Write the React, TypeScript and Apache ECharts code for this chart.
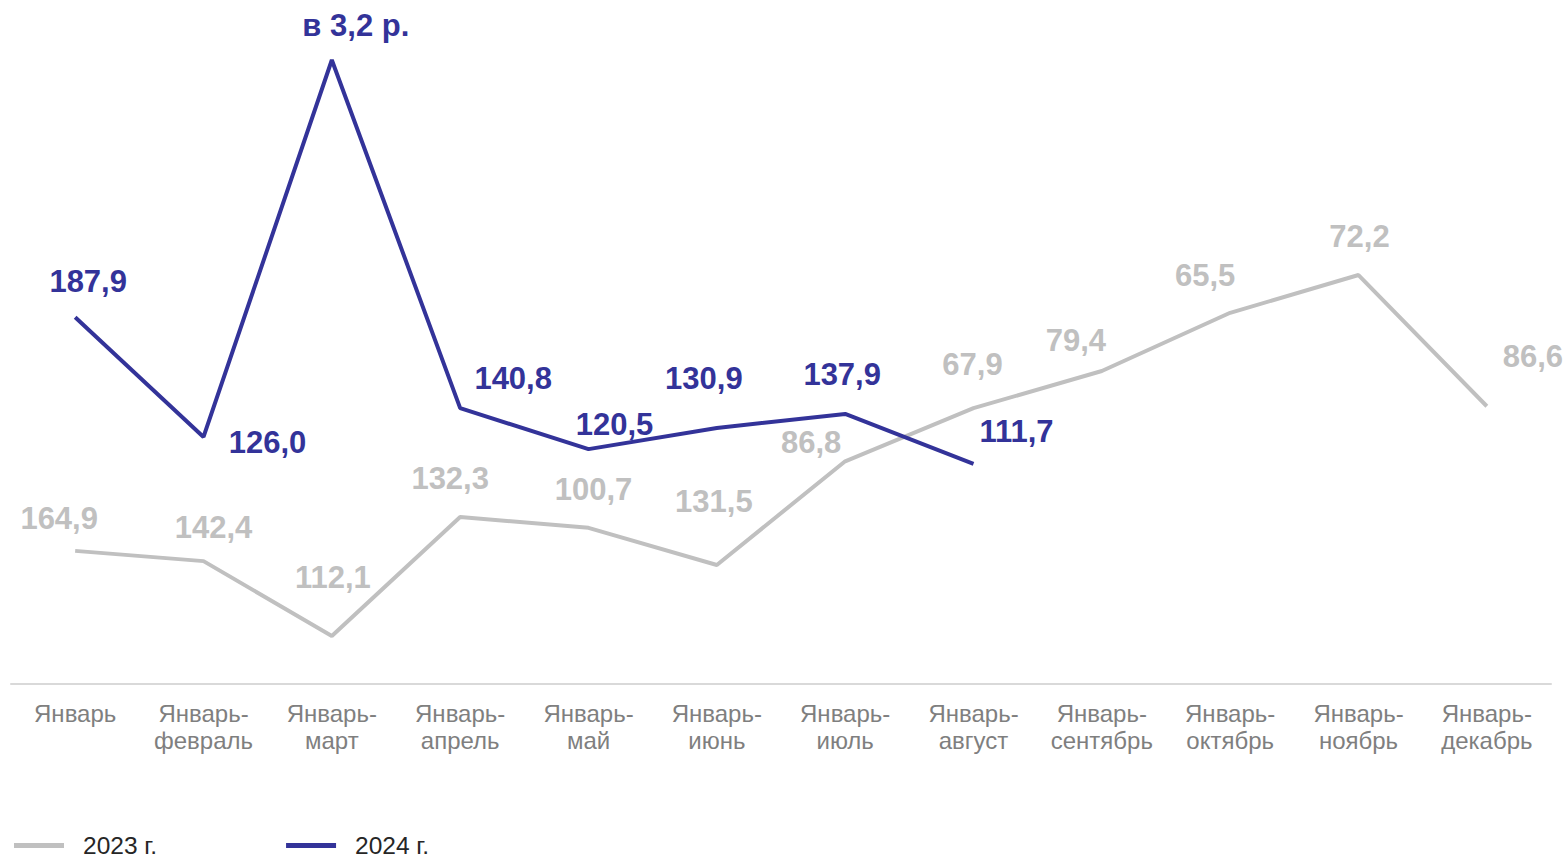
import React, { useEffect, useRef } from "react";
import * as echarts from "echarts";

const categories = [
  "Январь",
  "Январь-\nфевраль",
  "Январь-\nмарт",
  "Январь-\nапрель",
  "Январь-\nмай",
  "Январь-\nиюнь",
  "Январь-\nиюль",
  "Январь-\nавгуст",
  "Январь-\nсентябрь",
  "Январь-\nоктябрь",
  "Январь-\nноябрь",
  "Январь-\nдекабрь",
];

// plotted line heights (relative units, as drawn)
const values2023 = [20.8, 19.2, 7.5, 26.1, 24.4, 18.6, 34.8, 43.1, 48.9, 58.0, 63.9, 43.4];
const values2024 = [57.3, 38.6, 97.5, 43.1, 36.7, 40.0, 42.2, 34.4];

// printed labels
const labels2023 = ["164,9", "142,4", "112,1", "132,3", "100,7", "131,5", "86,8", "67,9", "79,4", "65,5", "72,2", "86,6"];
const labels2024 = ["187,9", "126,0", "в 3,2 р.", "140,8", "120,5", "130,9", "137,9", "111,7"];

const offsets2023 = [
  [-16, -32], [10, -34], [1, -59], [-10, -38], [5, -38], [-3, -63],
  [-34, -19], [-1, -44], [-26, -31], [-25, -37], [1, -39], [46, -50],
];
const offsets2024 = [
  [13, -36], [64, 6], [24, -35], [53, -30], [26, -25], [-13, -50], [-3, -39], [43, -32],
];

const GRAY = "#c0c0c0";
const BLUE = "#333399";
const FONT = "Liberation Sans, Arial, sans-serif";

export default function App() {
  const ref = useRef<HTMLDivElement>(null);
  useEffect(() => {
    if (!ref.current) return;
    const chart = echarts.init(ref.current, undefined, { renderer: "svg" });
    const mk = (vals: number[], labs: string[], offs: number[][], color: string) =>
      vals.map((v, i) => ({
        value: v,
        label: {
          show: true,
          formatter: labs[i],
          position: "inside",
          offset: offs[i],
          color,
          fontSize: 31,
          fontWeight: "bold",
          fontFamily: FONT,
        },
      }));
    chart.setOption({
      animation: false,
      grid: { left: 11, right: 17, top: 44, bottom: 173, containLabel: false },
      legend: {
        left: 14,
        top: 833,
        padding: 0,
        icon: "rect",
        itemWidth: 50,
        itemHeight: 5,
        itemGap: 129,
        textStyle: {
          fontSize: 24.5,
          lineHeight: 24,
          color: "#262626",
          fontFamily: FONT,
          padding: [0, 0, 0, 14],
        },
        data: [
          { name: "2023 г.", itemStyle: { color: GRAY, opacity: 1 } },
          { name: "2024 г.", itemStyle: { color: BLUE, opacity: 1 } },
        ],
      },
      xAxis: {
        type: "category",
        data: categories,
        boundaryGap: true,
        axisLine: { lineStyle: { color: "#d9d9d9", width: 2 } },
        axisTick: { show: false },
        axisLabel: {
          interval: 0,
          fontSize: 24,
          lineHeight: 27,
          color: "#7f7f7f",
          margin: 16,
          fontFamily: FONT,
        },
      },
      yAxis: {
        type: "value",
        min: 0,
        max: 100,
        show: false,
        splitLine: { show: false },
      },
      series: [
        {
          name: "2023 г.",
          type: "line",
          data: mk(values2023, labels2023, offsets2023, GRAY),
          symbol: "circle",
          symbolSize: 0,
          itemStyle: { color: GRAY },
          lineStyle: { color: GRAY, width: 4 },
          color: GRAY,
          z: 2,
        },
        {
          name: "2024 г.",
          type: "line",
          data: mk(values2024, labels2024, offsets2024, BLUE),
          symbol: "circle",
          symbolSize: 0,
          itemStyle: { color: BLUE },
          lineStyle: { color: BLUE, width: 4 },
          color: BLUE,
          z: 3,
        },
      ],
    });
    return () => chart.dispose();
  }, []);
  return (
    <div
      ref={ref}
      style={{ position: "absolute", left: 0, top: 0, width: 1568, height: 857, background: "#fff" }}
    />
  );
}
